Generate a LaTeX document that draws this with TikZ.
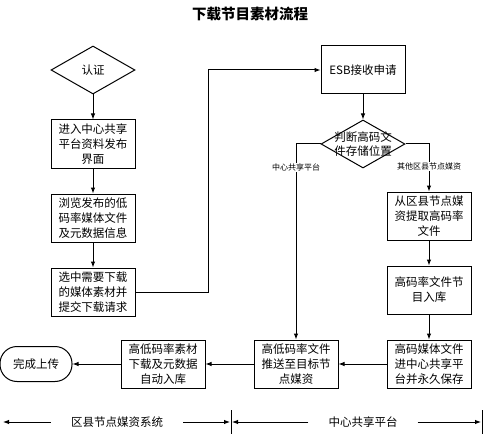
\documentclass[tikz,border=0pt]{standalone}
\usepackage{fontspec}
\setmainfont{Noto Sans CJK SC}
\usetikzlibrary{positioning, arrows.meta, shapes.geometric}

\begin{document}
\begin{tikzpicture}[
    x=1pt, y=-1pt,
    node distance=25pt,
    process/.style={rectangle, draw, line width=1pt, text width=76pt, align=center, minimum width=84pt, minimum height=48pt, inner sep=2pt, font=\fontsize{11.5}{15}\selectfont},
    decision/.style={diamond, draw, line width=1pt, minimum width=84pt, minimum height=48pt, inner sep=0pt, font=\fontsize{11.5}{15}\selectfont},
    terminal/.style={rectangle, rounded corners=17pt, draw, line width=1pt, minimum width=72pt, minimum height=35pt, font=\fontsize{11.5}{15}\selectfont},
    branch/.style={fill=white, inner sep=1pt, font=\fontsize{8}{9}\selectfont},
    span/.style={inner xsep=20pt, font=\fontsize{11.5}{14}\selectfont},
    arrow/.style={-{Latex[length=6pt, width=4.5pt]}, line width=1pt}
]
\useasboundingbox (0,0) rectangle (488,436);

% Title
\node[font=\fontsize{14.5}{16}\selectfont\bfseries] (title) at (250,14) {下载节目素材流程};

% Left column
\node[decision] (auth) at (93,70) {认证};
\node[process, below=of auth] (enter) {进入中心共享\\平台资料发布\\界面};
\node[process, below=of enter] (browse) {浏览发布的低\\码率媒体文件\\及元数据信息};
\node[process, below=of browse] (select) {选中需要下载\\的媒体素材并\\提交下载请求};

% Right column
\node[process] (esb) at (363,70) {ESB接收申请};
\node[decision, below=of esb] (judge) {};
\node[font=\fontsize{11.5}{14}\selectfont, align=center] (judgetext) at (judge.center) {判断高码文\\件存储位置};
\node[process] (extract) at (429,216) {从区县节点媒\\资提取高码率\\文件};
\node[process, below=of extract] (ingest) {高码率文件节\\目入库};
\node[process, below=of ingest] (store) {高码媒体文件\\进中心共享平\\台并永久保存};

% Bottom row
\node[process, left=48pt of store] (push) {高低码率文件\\推送至目标节\\点媒资};
\node[process, left=48pt of push] (download) {高低码率素材\\下载及元数据\\自动入库};
\node[terminal, left=48pt of download] (done) {完成上传};

% Arrows
\draw[arrow] (auth) -- (enter);
\draw[arrow] (enter) -- (browse);
\draw[arrow] (browse) -- (select);
\draw[arrow] (select.east) -- ++(73,0) |- (esb.west);
\draw[arrow] (esb) -- (judge);
\draw[arrow] (judge.west) -| node[branch, pos=0.56] {中心共享平台} (push.north);
\draw[arrow] (judge.east) -| node[branch, pos=0.735] {其他区县节点媒资} (extract.north);
\draw[arrow] (extract) -- (ingest);
\draw[arrow] (ingest) -- (store);
\draw[arrow] (store) -- (push);
\draw[arrow] (push) -- (download);
\draw[arrow] (download) -- (done);

% Zones
\node[span] (zone1) at (117,422) {区县节点媒资系统};
\node[span] (zone2) at (363,422) {中心共享平台};
\coordinate (leftend) at (3,422);
\coordinate (mid) at (231,422);
\coordinate (rightend) at (482,422);

\draw[arrow] (zone1.west) -- (leftend);
\draw[arrow] (zone1.east) -- ([xshift=-1pt]mid);
\draw[arrow] (zone2.west) -- ([xshift=1pt]mid);
\draw[arrow] (zone2.east) -- ([xshift=-1pt]rightend);
\draw[line width=1pt] ([yshift=12pt]mid) -- ([yshift=-12pt]mid);
\draw[line width=1pt] ([yshift=12pt]rightend) -- ([yshift=-12pt]rightend);

\end{tikzpicture}
\end{document}
